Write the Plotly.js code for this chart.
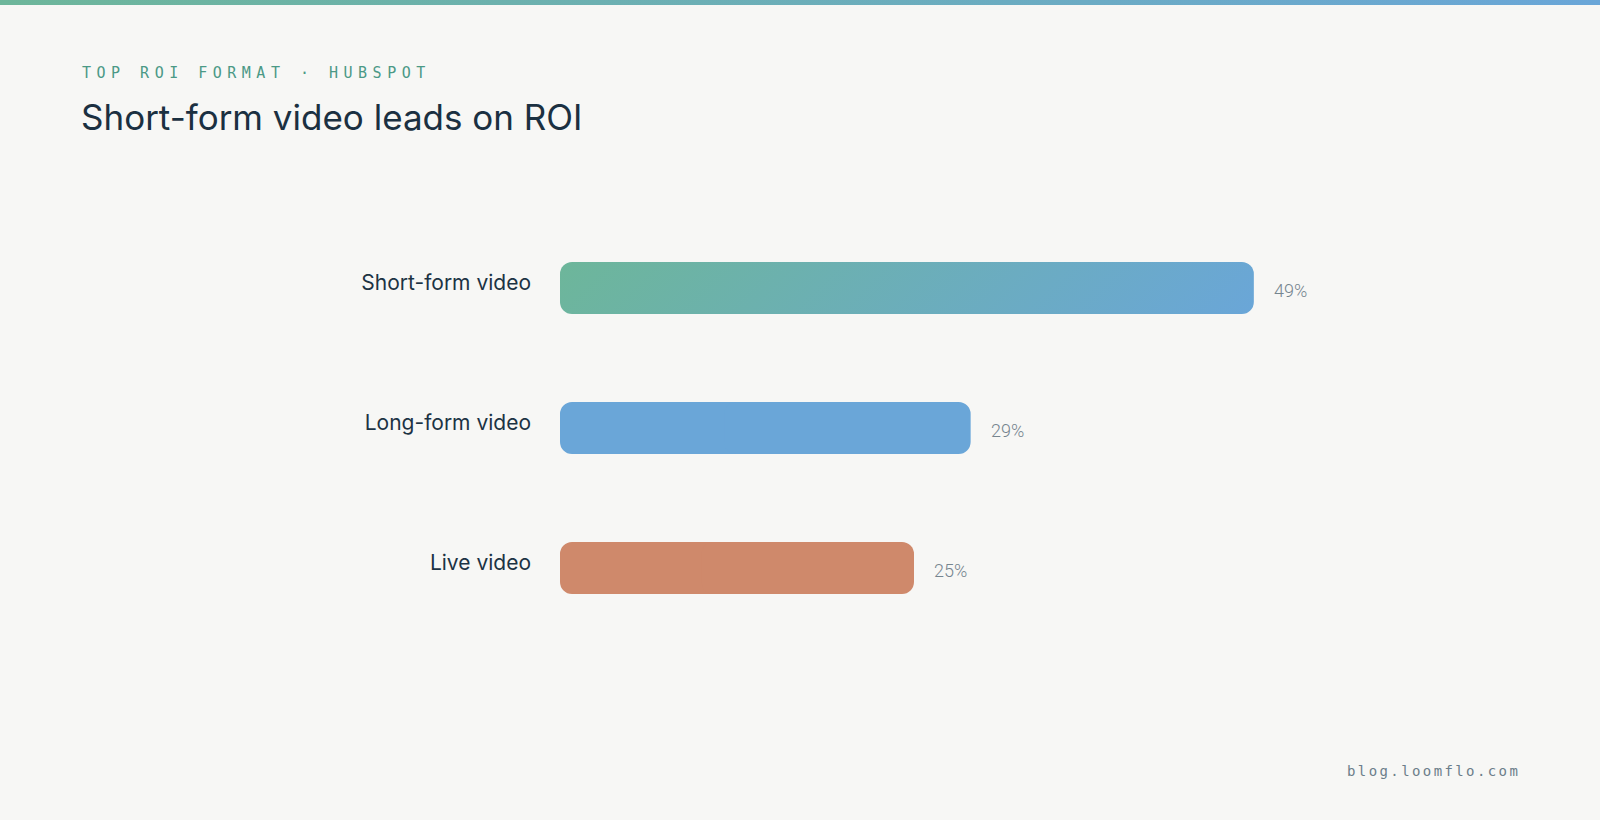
<!DOCTYPE html>
<html>
<head>
<meta charset="utf-8">
<script src="https://cdn.plot.ly/plotly-3.0.1.min.js"></script>
<style>
  html, body { margin: 0; padding: 0; background: #f7f7f5; }
  #chart { width: 1600px; height: 820px; }
</style>
</head>
<body>
<div id="chart"></div>
<script>
// ---- data ----
const categories = ["Short-form video", "Long-form video", "Live video"];
const values = [49, 29, 25];
const valueLabels = ["49%", "29%", "25%"];
const barColors = ["#6bafb9", "#6aa6d8", "#cf896b"];
const kicker = "TOP ROI FORMAT · HUBSPOT";
const titleText = "Short-form video leads on ROI";
const sourceText = "blog.loomflo.com";

// ---- layout geometry (pixels) ----
const W = 1600, H = 820;
const L = 560, R = 190, T = 218, B = 182;
const PW = W - L - R, PH = H - T - B;      // PH = 420 -> 140 px per category
const px = x => (x - L) / PW;
const py = y => 1 - (y - T) / PH;
const barFrac = 52 / (PH / categories.length);

// split each bar into two overlapping pieces so both ends get rounded corners
const leftBase = values.map(v => v * 0.6);
const leftSize = values.map(v => -v * 0.6);
const rightBase = values.map(v => v * 0.4);
const rightSize = values.map(v => v * 0.6);

const common = {
  type: 'bar', orientation: 'h', y: categories, width: barFrac, opacity: 1,
  hoverinfo: 'skip', showlegend: false
};
const traces = [
  Object.assign({}, common, { x: leftSize, base: leftBase,
    marker: { color: barColors, opacity: 1, cornerradius: 12, line: { width: 0 } } }),
  Object.assign({}, common, { x: rightSize, base: rightBase,
    marker: { color: barColors, opacity: 1, cornerradius: 12, line: { width: 0 } } })
];

const stripeSvg = "<svg xmlns='http://www.w3.org/2000/svg' width='1600' height='6' preserveAspectRatio='none'>" +
  "<defs><linearGradient id='g' x1='0' y1='0' x2='1' y2='0'><stop offset='0' stop-color='#6db69a'/>" +
  "<stop offset='1' stop-color='#6aa6d8'/></linearGradient></defs><rect width='1600' height='6' fill='url(#g)'/></svg>";

const annotations = [
  { text: kicker, xref: 'paper', yref: 'paper', x: px(80), y: py(73),
    xanchor: 'left', yanchor: 'middle', align: 'left', showarrow: false,
    font: { family: 'DejaVu Sans Mono', size: 15, color: '#4b9986' } },
  { text: titleText, xref: 'paper', yref: 'paper', x: px(79), y: py(117),
    xanchor: 'left', yanchor: 'middle', align: 'left', showarrow: false,
    font: { family: 'Inter', size: 35, color: '#1b3041', weight: 400 } },
  { text: sourceText, xref: 'paper', yref: 'paper', x: px(1345), y: py(771),
    xanchor: 'left', yanchor: 'middle', align: 'left', showarrow: false,
    font: { family: 'DejaVu Sans Mono', size: 14, color: '#6c7e8a' } }
];
categories.forEach((c, i) => {
  annotations.push({ text: valueLabels[i], x: values[i], y: c, xref: 'x', yref: 'y',
    xanchor: 'left', yanchor: 'middle', xshift: 18, yshift: -2, showarrow: false,
    font: { family: 'Roboto', size: 18, color: '#76858f', weight: 300 } });
});

const layout = {
  width: W, height: H,
  paper_bgcolor: '#f7f7f5', plot_bgcolor: '#f7f7f5',
  margin: { l: L, r: R, t: T, b: B, pad: 0 },
  barmode: 'overlay',
  xaxis: { range: [0, PW / 14.16], showgrid: false, zeroline: false, showticklabels: false,
    showline: false, ticks: '', fixedrange: true },
  yaxis: { type: 'category', categoryorder: 'array', categoryarray: categories,
    range: [2.5, -0.5], showgrid: false, zeroline: false, showline: false, ticks: '',
    ticklabelstandoff: 28, ticklabelshift: 5,
    tickfont: { family: 'Inter', size: 21, color: '#1c3344', weight: 400 }, fixedrange: true },
  annotations: annotations,
  images: [{ source: 'data:image/svg+xml;charset=utf-8,' + encodeURIComponent(stripeSvg),
    xref: 'paper', yref: 'paper', x: px(0), y: py(0), sizex: W / PW, sizey: 5 / PH,
    xanchor: 'left', yanchor: 'top', sizing: 'stretch', layer: 'above' }],
  showlegend: false
};

Plotly.newPlot('chart', traces, layout, { displayModeBar: false, staticPlot: true }).then(gd => {
  // letter-spacing for kicker and source line
  const spacing = { 0: '5.5px', 2: '2.4px' };
  Object.keys(spacing).forEach(k => {
    const t = gd.querySelector('.annotation[data-index="' + k + '"] text');
    if (t) t.style.letterSpacing = spacing[k];
  });
  // gradient fill for the first bar (both pieces)
  const svg = gd.querySelector('.main-svg');
  const paths = Array.from(gd.querySelectorAll('.barlayer .trace')).map(tr => tr.querySelector('.point path')).filter(Boolean);
  if (!paths.length) return;
  let x0 = Infinity, y0 = Infinity, x1 = -Infinity, y1 = -Infinity;
  paths.forEach(p => { const b = p.getBBox(); x0 = Math.min(x0, b.x); y0 = Math.min(y0, b.y);
    x1 = Math.max(x1, b.x + b.width); y1 = Math.max(y1, b.y + b.height); });
  const w = x1 - x0, h = y1 - y0, cx = (x0 + x1) / 2, cy = (y0 + y1) / 2;
  const len = (w + h) / Math.SQRT2, d = len / 2 / Math.SQRT2;
  const NS = 'http://www.w3.org/2000/svg';
  let defs = svg.querySelector('defs');
  if (!defs) { defs = document.createElementNS(NS, 'defs'); svg.insertBefore(defs, svg.firstChild); }
  const lg = document.createElementNS(NS, 'linearGradient');
  lg.setAttribute('id', 'barGrad');
  lg.setAttribute('gradientUnits', 'userSpaceOnUse');
  lg.setAttribute('x1', cx - d); lg.setAttribute('y1', cy - d);
  lg.setAttribute('x2', cx + d); lg.setAttribute('y2', cy + d);
  [['0', '#6db69a'], ['1', '#6aa6d8']].forEach(s => {
    const st = document.createElementNS(NS, 'stop');
    st.setAttribute('offset', s[0]); st.setAttribute('stop-color', s[1]); lg.appendChild(st);
  });
  defs.appendChild(lg);
  paths.forEach(p => { p.style.fill = 'url(#barGrad)'; });
});
</script>
</body>
</html>
